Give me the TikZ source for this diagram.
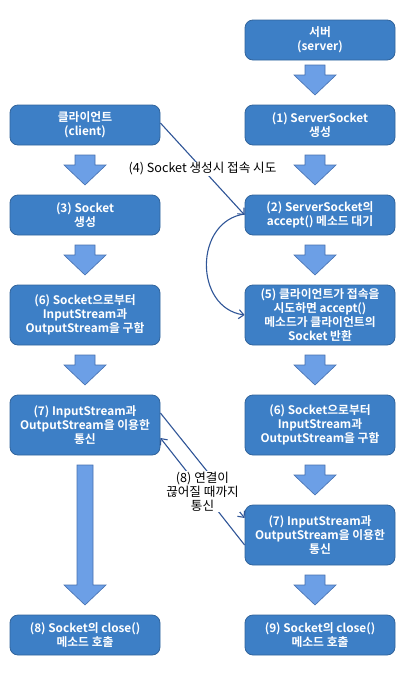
\documentclass[tikz,border=0pt]{standalone}
\usepackage{fontspec}
\setmainfont{Noto Sans CJK KR}[BoldFont={Noto Sans CJK KR Bold}]
\usetikzlibrary{arrows.meta}
\definecolor{boxblue}{HTML}{3D7FC6}
\definecolor{boxedge}{HTML}{31649C}
\definecolor{arrblue}{HTML}{6C9FE6}
\definecolor{arredge}{HTML}{4670B0}
\definecolor{linkblue}{HTML}{2F5597}
\tikzset{
  box/.style={draw=boxedge,fill=boxblue,rounded corners=8pt,line width=0.8pt,
    minimum width=150pt,minimum height=40pt,inner sep=0pt,align=center,
    text=white,font=\bfseries\fontsize{11.8}{13.8}\selectfont},
  tall/.style={minimum height=60pt},
  link/.style={draw=linkblue,line width=1.1pt,-{Straight Barb[length=5pt,width=9pt]}},
  tag/.style={fill=white,inner sep=1pt,align=center,font=\fontsize{12.6}{13.8}\selectfont}
}
\newcommand{\downblock}[4][10]{%
  \draw[draw=arredge,fill=arrblue,line width=0.6pt] (#2-#1,#3) -- (#2+#1,#3) -- (#2+#1,#4-20)
    -- (#2+21,#4-20) -- (#2,#4) -- (#2-21,#4-20) -- (#2-#1,#4-20) -- cycle;}
\begin{document}
\begin{tikzpicture}[x=1pt,y=-1pt]
  \useasboundingbox (0,0) rectangle (415,675);
  \node[box] (server) at (320,40) {서버\\(server)};
  \node[box] (client) at (85,125) {클라이언트\\(client)};
  \node[box] (create) at (320,125) {(1) ServerSocket\\생성};
  \node[box] (sock) at (85,215) {(3) Socket\\생성};
  \node[box] (accept) at (320,215) {(2) ServerSocket의\\accept() 메소드 대기};
  \node[box,tall] (cstream) at (85,315) {(6) Socket으로부터\\InputStream과\\OutputStream을 구함};
  \node[box,tall] (ret) at (320,315) {(5) 클라이언트가 접속을\\시도하면 accept()\\메소드가 클라이언트의\\Socket 반환};
  \node[box,tall] (cio) at (85,425) {(7) InputStream과\\OutputStream을 이용한\\통신};
  \node[box,tall] (sstream) at (320,425) {(6) Socket으로부터\\InputStream과\\OutputStream을 구함};
  \node[box,tall] (sio) at (320,535) {(7) InputStream과\\OutputStream을 이용한\\통신};
  \node[box] (cclose) at (85,635) {(8) Socket의 close()\\메소드 호출};
  \node[box] (sclose) at (320,635) {(9) Socket의 close()\\메소드 호출};

  \downblock{315}{65}{95}
  \downblock{315}{155}{185}
  \downblock{315}{245}{275}
  \downblock{315}{355}{385}
  \downblock{315}{465}{495}
  \downblock{315}{575}{605}
  \downblock{85}{155}{185}
  \downblock{85}{245}{275}
  \downblock{85}{355}{385}
  \downblock[8]{85}{465}{605}

  \draw[link] ([yshift=2pt]client.east) -- (accept.west)
    node[tag,pos=0.5] {(4) Socket 생성시 접속 시도};
  \draw[link] ([yshift=1pt]accept.west) to[out=188,in=172,looseness=1.3] (ret.west);
  \draw[link] ([yshift=12pt]cio.east) -- ([yshift=17pt]sio.west);
  \draw[link] ([yshift=-10pt]sio.west) -- ([yshift=-13pt]cio.east)
    node[tag,pos=0.5] {(8) 연결이\\끊어질 때까지\\통신};
\end{tikzpicture}
\end{document}
